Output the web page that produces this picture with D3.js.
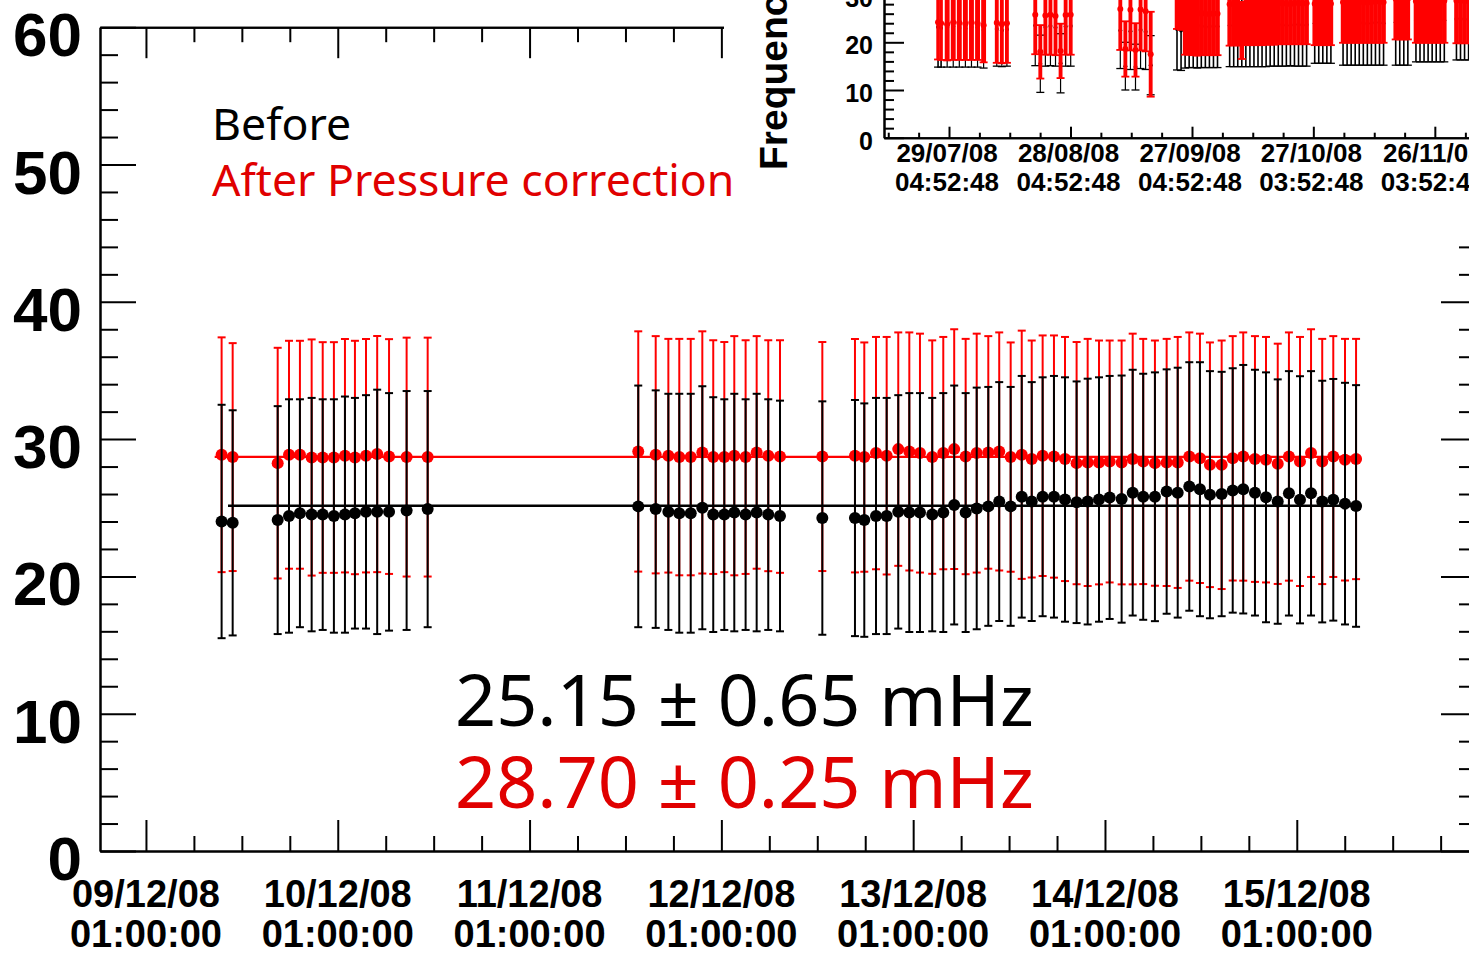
<!DOCTYPE html>
<html>
<head>
<meta charset="utf-8">
<script src="https://cdnjs.cloudflare.com/ajax/libs/d3/7.8.5/d3.min.js"></script>
<style>
body { margin: 0; background: #fff; overflow: hidden; }
svg { display: block; background: #fff; }
.lbl { font-family: "Liberation Sans", Arial, sans-serif; font-weight: bold; fill: #000; }
.note { font-family: "Noto Sans", sans-serif; }
</style>
</head>
<body>
<svg id="svg" width="1469" height="954"></svg>
<script>
var svg = d3.select("#svg"),
    width = 1469,
    height = 954;

// ---- main plot data: 9-15 Dec 2008 ----
var times = [
  "09/12/08 10:28","09/12/08 11:51","09/12/08 17:29","09/12/08 18:54","09/12/08 20:16","09/12/08 21:44","09/12/08 23:07",
  "10/12/08 00:31","10/12/08 01:54","10/12/08 03:09","10/12/08 04:32","10/12/08 05:56","10/12/08 07:25","10/12/08 09:37","10/12/08 12:15",
  "11/12/08 14:36","11/12/08 16:47","11/12/08 18:22","11/12/08 19:44","11/12/08 21:10","11/12/08 22:37","11/12/08 23:59",
  "12/12/08 01:22","12/12/08 02:37","12/12/08 04:02","12/12/08 05:25","12/12/08 06:52","12/12/08 08:20","12/12/08 13:38",
  "12/12/08 17:43","12/12/08 18:53","12/12/08 20:21","12/12/08 21:41","12/12/08 23:08",
  "13/12/08 00:31","13/12/08 01:51","13/12/08 03:23","13/12/08 04:46","13/12/08 06:08","13/12/08 07:34","13/12/08 08:57",
  "13/12/08 10:24","13/12/08 11:46","13/12/08 13:12","13/12/08 14:35","13/12/08 15:50","13/12/08 17:12","13/12/08 18:37",
  "13/12/08 20:00","13/12/08 21:27","13/12/08 22:50",
  "14/12/08 00:15","14/12/08 01:35","14/12/08 03:05","14/12/08 04:28","14/12/08 05:47","14/12/08 07:15","14/12/08 08:43",
  "14/12/08 10:06","14/12/08 11:33","14/12/08 12:53","14/12/08 14:08","14/12/08 15:36","14/12/08 16:59","14/12/08 18:18",
  "14/12/08 19:46","14/12/08 21:09","14/12/08 22:37",
  "15/12/08 00:01","15/12/08 01:24","15/12/08 02:47","15/12/08 04:11","15/12/08 05:34","15/12/08 07:02","15/12/08 08:25"
];
var before = [
  24.0, 23.9, 24.1, 24.4, 24.6, 24.5, 24.5, 24.4, 24.5, 24.6, 24.7, 24.7, 24.7, 24.8, 24.9,
  25.1, 24.9, 24.7, 24.6, 24.6, 25.0, 24.5, 24.5, 24.65, 24.5, 24.65, 24.5, 24.4, 24.25,
  24.25, 24.1, 24.4, 24.4, 24.7, 24.65, 24.65, 24.5, 24.65, 25.2, 24.65, 24.95, 25.1, 25.45, 25.1, 25.8,
  25.45, 25.8, 25.8, 25.6, 25.4, 25.45, 25.6, 25.75,
  25.63, 26.1, 25.8, 25.8, 26.18, 26.1, 26.55, 26.35, 25.95, 26.0, 26.26, 26.35, 26.1, 25.76, 25.45,
  26.05, 25.58, 26.05, 25.45, 25.58, 25.3, 25.13
];
var beforeErr = [
  8.5, 8.2, 8.3, 8.5, 8.3, 8.5, 8.4, 8.5, 8.6, 8.4, 8.5, 8.9, 8.65, 8.7, 8.6,
  8.8, 8.65, 8.6, 8.7, 8.7, 8.85, 8.55, 8.4, 8.65, 8.4, 8.65, 8.4, 8.4, 8.5,
  8.6, 8.5, 8.6, 8.6, 8.5, 8.7, 8.7, 8.5, 8.7, 8.7, 8.7, 8.8, 8.7, 8.7, 8.7, 8.8,
  8.7, 8.7, 8.8, 8.9, 8.8, 8.95, 8.9, 8.85,
  9.0, 8.95, 8.96, 9.06, 8.9, 9.1, 9.05, 9.25, 9.0, 8.9, 8.9, 9.05, 8.95, 9.1, 8.9,
  8.9, 9.0, 8.9, 8.8, 8.8, 8.8, 8.8
];
var after = [
  28.86, 28.69, 28.25, 28.86, 28.86, 28.66, 28.66, 28.66, 28.79, 28.66, 28.79, 28.91, 28.73, 28.69, 28.69,
  29.1, 28.86, 28.79, 28.69, 28.69, 29.03, 28.69, 28.69, 28.79, 28.69, 29.03, 28.79, 28.73, 28.73,
  28.79, 28.69, 28.98, 28.79, 29.27, 29.1, 28.98, 28.69, 28.98, 29.27, 28.73, 28.98, 29.03, 29.1, 28.69, 28.86,
  28.55, 28.79, 28.73, 28.55, 28.25, 28.3, 28.3, 28.37,
  28.3, 28.55, 28.37, 28.25, 28.3, 28.3, 28.73, 28.6, 28.13, 28.13, 28.6, 28.73, 28.55, 28.5, 28.2,
  28.73, 28.37, 28.98, 28.37, 28.73, 28.5, 28.55
];
var afterErr = [
  8.55, 8.3, 8.4, 8.3, 8.3, 8.6, 8.4, 8.4, 8.5, 8.5, 8.5, 8.6, 8.55, 8.7, 8.7,
  8.75, 8.64, 8.51, 8.61, 8.61, 8.82, 8.51, 8.38, 8.71, 8.51, 8.47, 8.41, 8.47, 8.34,
  8.5, 8.35, 8.46, 8.65, 8.5, 8.67, 8.7, 8.5, 8.46, 8.73, 8.57, 8.7, 8.47, 8.67, 8.35, 9.04,
  8.63, 8.76, 8.82, 8.89, 8.82, 9.0, 8.88, 8.81,
  8.88, 9.13, 8.93, 8.93, 9.0, 9.14, 9.04, 9.08, 8.91, 9.05, 8.9, 9.04, 8.95, 8.94, 8.75,
  9.04, 9.07, 9.02, 8.93, 8.77, 8.8, 8.75
];

// fitted constants (before, after)
var fitValues = [25.15, 28.70];
var fitFrom = ["09/12/08 11:16", "09/12/08 09:36"];
var fitTo = ["15/12/08 09:00", "15/12/08 09:00"];

var mainTicks = ["09/12/08 01:00:00","10/12/08 01:00:00","11/12/08 01:00:00","12/12/08 01:00:00",
                 "13/12/08 01:00:00","14/12/08 01:00:00","15/12/08 01:00:00"];
var yTicks = [0, 10, 20, 30, 40, 50, 60];

var legendLines = ["Before", "After Pressure correction"];
var resultLines = ["25.15 \u00B1 0.65 mHz", "28.70 \u00B1 0.25 mHz"];

// ---- inset data: Jul - Dec 2008 ----
var insetTimes = [
  "26/07/08 12:00","27/07/08 06:00","28/07/08 18:00","30/07/08 06:00","31/07/08 18:00","02/08/08 06:00","03/08/08 18:00","05/08/08 06:00","06/08/08 18:00",
  "10/08/08 00:00","11/08/08 06:00","12/08/08 12:00",
  "19/08/08 12:00","20/08/08 18:00","22/08/08 00:00","23/08/08 06:00","24/08/08 12:00","25/08/08 18:00","27/08/08 00:00","28/08/08 06:00",
  "09/09/08 12:00","10/09/08 18:00","12/09/08 00:00","13/09/08 06:00","14/09/08 12:00","15/09/08 18:00","17/09/08 00:00",
  "23/09/08 12:00","24/09/08 12:00","25/09/08 12:00","26/09/08 12:00","27/09/08 12:00","28/09/08 12:00","29/09/08 12:00","30/09/08 12:00",
  "01/10/08 12:00","02/10/08 12:00","03/10/08 12:00",
  "06/10/08 12:00","07/10/08 12:00","08/10/08 12:00","09/10/08 12:00","10/10/08 12:00","11/10/08 12:00","12/10/08 12:00","13/10/08 12:00",
  "14/10/08 12:00","15/10/08 12:00","16/10/08 12:00","17/10/08 12:00","18/10/08 12:00","19/10/08 12:00","20/10/08 12:00","21/10/08 12:00",
  "22/10/08 12:00","23/10/08 12:00","24/10/08 12:00","25/10/08 12:00",
  "27/10/08 12:00","28/10/08 12:00","29/10/08 12:00","30/10/08 12:00","31/10/08 12:00",
  "03/11/08 12:00","04/11/08 12:00","05/11/08 12:00","06/11/08 12:00","07/11/08 12:00","08/11/08 12:00","09/11/08 12:00","10/11/08 12:00",
  "11/11/08 12:00","12/11/08 12:00","13/11/08 12:00",
  "16/11/08 12:00","17/11/08 12:00","18/11/08 12:00","19/11/08 12:00",
  "21/11/08 12:00","22/11/08 12:00","23/11/08 12:00","24/11/08 12:00","25/11/08 12:00","26/11/08 12:00","27/11/08 12:00","28/11/08 12:00",
  "01/12/08 12:00","02/12/08 12:00","03/12/08 12:00","04/12/08 12:00","05/12/08 12:00","06/12/08 12:00"
];
var insetAfter = [
  24.2, 24.0, 23.8, 24.2, 24.1, 23.9, 24.2, 24.0, 23.6,
  24.1, 23.8, 24.0,
  25.8, 18.0, 25.6, 25.8, 25.5, 18.2, 25.7, 25.8,
  27.0, 18.6, 26.8, 18.4, 26.9, 26.5, 17.5,
  31.2, 30.8, 26.1, 26.0, 25.9, 26.0, 26.2, 26.0, 25.9, 26.1, 26.0,
  28.0, 28.1, 27.9, 22.5, 28.2, 28.0, 28.1, 27.9, 28.0, 28.2, 28.1, 28.0, 28.3, 28.2, 28.1, 28.0, 28.2, 28.3, 28.1, 28.2,
  28.1, 28.2, 28.0, 28.3, 28.1,
  28.4, 28.5, 28.3, 28.6, 28.4, 28.5, 28.3, 28.4, 28.6, 28.5, 28.4,
  29.1, 29.2, 29.0, 29.1,
  28.6, 28.7, 28.5, 28.6, 28.7, 28.5, 28.6, 28.7,
  28.7, 28.8, 28.6, 28.7, 28.8, 28.7
];
var insetAfterErr = [
  7.8, 7.7, 7.6, 7.9, 7.8, 7.6, 7.9, 7.7, 7.8,
  8.4, 8.2, 8.3,
  8.3, 5.6, 8.2, 8.4, 8.2, 5.7, 8.3, 8.4,
  8.6, 5.8, 8.5, 5.6, 8.6, 8.4, 8.9,
  8.4, 8.2, 8.7, 8.6, 8.6, 8.8, 8.8, 8.7, 8.6, 8.8, 8.7,
  8.7, 8.7, 8.6, 6.0, 8.8, 8.6, 8.7, 8.5, 8.6, 8.7, 8.6, 8.5, 8.7, 8.6, 8.5, 8.4, 8.6, 8.7, 8.5, 8.6,
  8.7, 8.8, 8.6, 8.9, 8.7,
  8.5, 8.6, 8.4, 8.7, 8.5, 8.6, 8.4, 8.5, 8.7, 8.6, 8.5,
  8.5, 8.6, 8.4, 8.5,
  8.7, 8.8, 8.6, 8.7, 8.8, 8.6, 8.7, 8.8,
  8.9, 9.0, 8.8, 8.9, 9.0, 8.9
];
var insetBefore = [
  23.2, 23.0, 23.1, 23.3, 23.0, 22.9, 23.2, 23.1, 22.6,
  22.8, 22.5, 22.7,
  23.5, 15.5, 23.2, 23.4, 23.1, 15.6, 23.3, 23.4,
  22.5, 15.0, 22.3, 14.8, 22.6, 22.2, 15.2,
  22.8, 22.5, 23.2, 23.4, 23.3, 23.2, 23.5, 23.3, 23.2, 23.4, 23.3,
  23.5, 23.6, 23.4, 23.3, 23.7, 23.5, 23.6, 23.4, 23.5, 23.7, 23.6, 23.5, 23.8, 23.7, 23.6, 23.5, 23.7, 23.8, 23.6, 23.7,
  24.0, 24.1, 23.9, 24.2, 24.0,
  24.0, 24.1, 23.9, 24.2, 24.0, 24.1, 23.9, 24.0, 24.2, 24.1, 24.0,
  24.2, 24.3, 24.1, 24.2,
  24.5, 24.6, 24.4, 24.5, 24.6, 24.4, 24.5, 24.6,
  24.9, 25.0, 24.8, 24.9, 25.0, 24.9
];
var insetBeforeErr = [
  8.4, 8.2, 8.3, 8.5, 8.2, 8.1, 8.4, 8.3, 8.0,
  7.8, 7.6, 7.7,
  8.4, 6.0, 8.2, 8.3, 8.1, 6.2, 8.3, 8.4,
  8.0, 5.0, 8.0, 4.8, 8.1, 7.9, 6.2,
  8.6, 8.4, 8.6, 8.7, 8.6, 8.6, 8.8, 8.6, 8.5, 8.7, 8.6,
  8.6, 8.7, 8.5, 8.4, 8.8, 8.6, 8.7, 8.5, 8.6, 8.8, 8.6, 8.5, 8.8, 8.7, 8.6, 8.4, 8.7, 8.8, 8.6, 8.7,
  8.4, 8.5, 8.3, 8.6, 8.4,
  8.8, 8.9, 8.7, 9.0, 8.8, 8.9, 8.7, 8.8, 9.0, 8.9, 8.8,
  9.0, 9.1, 8.9, 9.0,
  8.6, 8.7, 8.5, 8.6, 8.7, 8.5, 8.6, 8.7,
  8.6, 8.7, 8.5, 8.6, 8.7, 8.6
];
var insetTicks = ["29/07/08 04:52:48","28/08/08 04:52:48","27/09/08 04:52:48","27/10/08 03:52:48","26/11/08 03:52:48"];
var insetYTicks = [0, 10, 20, 30];
var insetTitle = "Frequency (mHz)";

var parseTime = d3.utcParse("%d/%m/%y %H:%M"),
    parseTick = d3.utcParse("%d/%m/%y %H:%M:%S"),
    fmtDay = d3.utcFormat("%d/%m/%y"),
    fmtClock = d3.utcFormat("%H:%M:%S");

var RED = "#ff0000", TXTRED = "#e00000";

// ---------------- main frame ----------------
var x = d3.scaleUtc()
    .domain([parseTime("08/12/08 19:15"), parseTime("15/12/08 23:33")])
    .range([100, 1477]);
var y = d3.scaleLinear().domain([0, 60]).range([851, 27.2]);

var majorX = mainTicks.map(parseTick);
var minorX = [];
for (var k = -4; k <= 32; k++) {
  if (k % 4 === 0) continue;
  var t = d3.utcHour.offset(majorX[0], 6 * k);
  if (t >= x.domain()[0] && t <= x.domain()[1]) minorX.push(t);
}
var minorY = d3.range(0, 61, 2).filter(function(v) { return v % 10 !== 0; });

function tickAxis(axis, vals, size) {
  return axis.tickValues(vals).tickSize(size).tickSizeOuter(0).tickFormat("");
}
var axes = svg.append("g").attr("class", "axes").attr("stroke-width", 2);
axes.append("g").attr("transform", "translate(0,851)").call(tickAxis(d3.axisBottom(x), minorX, -15));
axes.append("g").attr("transform", "translate(0,851)").call(tickAxis(d3.axisBottom(x), majorX, -31));
axes.append("g").attr("transform", "translate(0,27.2)").call(tickAxis(d3.axisTop(x), minorX, -15));
axes.append("g").attr("transform", "translate(0,27.2)").call(tickAxis(d3.axisTop(x), majorX, -31));
axes.append("g").attr("transform", "translate(100,0)").call(tickAxis(d3.axisLeft(y), minorY, -18));
axes.append("g").attr("transform", "translate(100,0)").call(tickAxis(d3.axisLeft(y), yTicks, -36));
axes.append("g").attr("transform", "translate(1477,0)").call(tickAxis(d3.axisRight(y), minorY, -18));
axes.append("g").attr("transform", "translate(1477,0)").call(tickAxis(d3.axisRight(y), yTicks, -36));

// y labels
svg.append("g").selectAll("text").data(yTicks).enter().append("text")
    .attr("class", "lbl")
    .attr("x", 82)
    .attr("y", function(d) { return y(d) + 29; })
    .attr("text-anchor", "end")
    .style("font-size", "62px")
    .text(function(d) { return d; });

// x labels (two lines)
var xl = svg.append("g").selectAll("g").data(majorX).enter().append("g");
xl.append("text").attr("class", "lbl")
    .attr("x", function(d) { return x(d); }).attr("y", 907)
    .attr("text-anchor", "middle").style("font-size", "38px")
    .text(function(d) { return fmtDay(d); });
xl.append("text").attr("class", "lbl")
    .attr("x", function(d) { return x(d); }).attr("y", 947)
    .attr("text-anchor", "middle").style("font-size", "38px")
    .text(function(d) { return fmtClock(d); });

// ---------------- main data ----------------
var rows = times.map(function(t, i) {
  return { t: parseTime(t), b: before[i], be: beforeErr[i], a: after[i], ae: afterErr[i] };
});

function errorBars(g, data, xs, ys, val, err, color, w, capHalf, wFn) {
  g.selectAll("line.bar").data(data).enter().append("line")
      .attr("class", "bar")
      .attr("x1", function(d) { return xs(d.t); })
      .attr("x2", function(d) { return xs(d.t); })
      .attr("y1", function(d) { return ys(val(d) - err(d)); })
      .attr("y2", function(d) { return ys(val(d) + err(d)); })
      .attr("stroke", color)
      .attr("stroke-width", function(d, i) { return wFn ? wFn(d, i) : w; });
  var caps = [];
  data.forEach(function(d) {
    caps.push({ t: d.t, v: val(d) - err(d) });
    caps.push({ t: d.t, v: val(d) + err(d) });
  });
  g.selectAll("line.cap").data(caps).enter().append("line")
      .attr("class", "cap")
      .attr("x1", function(d) { return xs(d.t) - capHalf; })
      .attr("x2", function(d) { return xs(d.t) + capHalf; })
      .attr("y1", function(d) { return ys(d.v); })
      .attr("y2", function(d) { return ys(d.v); })
      .attr("stroke", color)
      .attr("stroke-width", w);
}
function markers(g, data, xs, ys, val, color, r) {
  g.selectAll("circle").data(data).enter().append("circle")
      .attr("cx", function(d) { return xs(d.t); })
      .attr("cy", function(d) { return ys(val(d)); })
      .attr("r", r)
      .attr("fill", color);
}

var gAfter = svg.append("g").attr("class", "after");
errorBars(gAfter, rows, x, y, function(d) { return d.a; }, function(d) { return d.ae; }, RED, 2, 4);
markers(gAfter, rows, x, y, function(d) { return d.a; }, RED, 6);
svg.append("line")
    .attr("x1", x(parseTime(fitFrom[1]))).attr("x2", x(parseTime(fitTo[1])))
    .attr("y1", y(fitValues[1])).attr("y2", y(fitValues[1]))
    .attr("stroke", RED).attr("stroke-width", 2.2);

var gBefore = svg.append("g").attr("class", "before");
errorBars(gBefore, rows, x, y, function(d) { return d.b; }, function(d) { return d.be; }, "#000", 2, 4);
markers(gBefore, rows, x, y, function(d) { return d.b; }, "#000", 6);
svg.append("line")
    .attr("x1", x(parseTime(fitFrom[0]))).attr("x2", x(parseTime(fitTo[0])))
    .attr("y1", y(fitValues[0])).attr("y2", y(fitValues[0]))
    .attr("stroke", "#000").attr("stroke-width", 2.6);

// results text
svg.selectAll("text.result").data(resultLines).enter().append("text")
    .attr("class", "note result")
    .attr("x", 455)
    .attr("y", function(d, i) { return 726 + i * 82; })
    .style("font-size", "72px")
    .attr("fill", function(d, i) { return i === 0 ? "#000" : TXTRED; })
    .text(function(d) { return d; });

// ---------------- inset pad ----------------
svg.append("rect").attr("x", 724).attr("y", 0).attr("width", 760).attr("height", 232).attr("fill", "#fff");

var ix = d3.scaleUtc()
    .domain([parseTime("13/07/08 03:40"), parseTime("16/12/08 04:52")])
    .range([884, 1516]);
var iy = d3.scaleLinear().domain([0, 35]).range([137.7, -29.25]);

var iMajor = insetTicks.map(parseTick);
var iMinor = [];
for (var j = -4; j <= 24; j++) {
  if (j % 4 === 0) continue;
  var tt = d3.utcHour.offset(iMajor[0], 180 * j);
  if (tt >= ix.domain()[0] && tt <= ix.domain()[1]) iMinor.push(tt);
}
var iMinorY = d3.range(0, 36, 2).filter(function(v) { return v % 10 !== 0; });

var iaxes = svg.append("g").attr("class", "inset-axes").attr("stroke-width", 2);
iaxes.append("g").attr("transform", "translate(0,137.7)").call(tickAxis(d3.axisBottom(ix), iMinor, -5));
iaxes.append("g").attr("transform", "translate(0,137.7)").call(tickAxis(d3.axisBottom(ix), iMajor, -11));
iaxes.append("g").attr("transform", "translate(884,0)").call(tickAxis(d3.axisLeft(iy), iMinorY, -10));
iaxes.append("g").attr("transform", "translate(884,0)").call(tickAxis(d3.axisLeft(iy), insetYTicks, -20));

svg.append("g").selectAll("text").data(insetYTicks).enter().append("text")
    .attr("class", "lbl")
    .attr("x", 873)
    .attr("y", function(d) { return iy(d) + 12; })
    .attr("text-anchor", "end")
    .style("font-size", "25px")
    .text(function(d) { return d; });

var il = svg.append("g").selectAll("g").data(iMajor).enter().append("g");
il.append("text").attr("class", "lbl")
    .attr("x", function(d) { return ix(d) - 2; }).attr("y", 162)
    .attr("text-anchor", "middle").style("font-size", "26px")
    .text(function(d) { return fmtDay(d); });
il.append("text").attr("class", "lbl")
    .attr("x", function(d) { return ix(d) - 2; }).attr("y", 191)
    .attr("text-anchor", "middle").style("font-size", "26px")
    .text(function(d) { return fmtClock(d); });

svg.append("text").attr("class", "lbl")
    .attr("transform", "translate(787,170) rotate(-90)")
    .attr("text-anchor", "start")
    .style("font-size", "39px")
    .text(insetTitle);

var irows = insetTimes.map(function(t, i) {
  return { t: parseTime(t), b: insetBefore[i], be: insetBeforeErr[i], a: insetAfter[i], ae: insetAfterErr[i] };
});
// neighbour gap in pixels decides how thick a bar is drawn (dense runs merge)
var gaps = irows.map(function(d, i) {
  var g = Infinity;
  if (i > 0) g = Math.min(g, ix(d.t) - ix(irows[i - 1].t));
  if (i < irows.length - 1) g = Math.min(g, ix(irows[i + 1].t) - ix(d.t));
  return g;
});
var gInB = svg.append("g").attr("class", "inset-before");
errorBars(gInB, irows, ix, iy, function(d) { return d.b; }, function(d) { return d.be; }, "#000", 1.3, 4,
  function(d, i) { return gaps[i] < 4.8 ? 1.6 : 1.2; });
markers(gInB, irows, ix, iy, function(d) { return d.b; }, "#000", 2);
var gInA = svg.append("g").attr("class", "inset-after");
errorBars(gInA, irows, ix, iy, function(d) { return d.a; }, function(d) { return d.ae; }, RED, 1.8, 4,
  function(d, i) { return gaps[i] < 4.8 ? gaps[i] + 0.5 : Math.min(gaps[i] - 1.2, 5); });
markers(gInA, irows, ix, iy, function(d) { return d.a; }, RED, 3);

// legend on top
svg.selectAll("text.legend").data(legendLines).enter().append("text")
    .attr("class", "note legend")
    .attr("x", 212)
    .attr("y", function(d, i) { return 140 + i * 56; })
    .style("font-size", "44.6px")
    .attr("fill", function(d, i) { return i === 0 ? "#000" : TXTRED; })
    .text(function(d) { return d; });
</script>
</body>
</html>
